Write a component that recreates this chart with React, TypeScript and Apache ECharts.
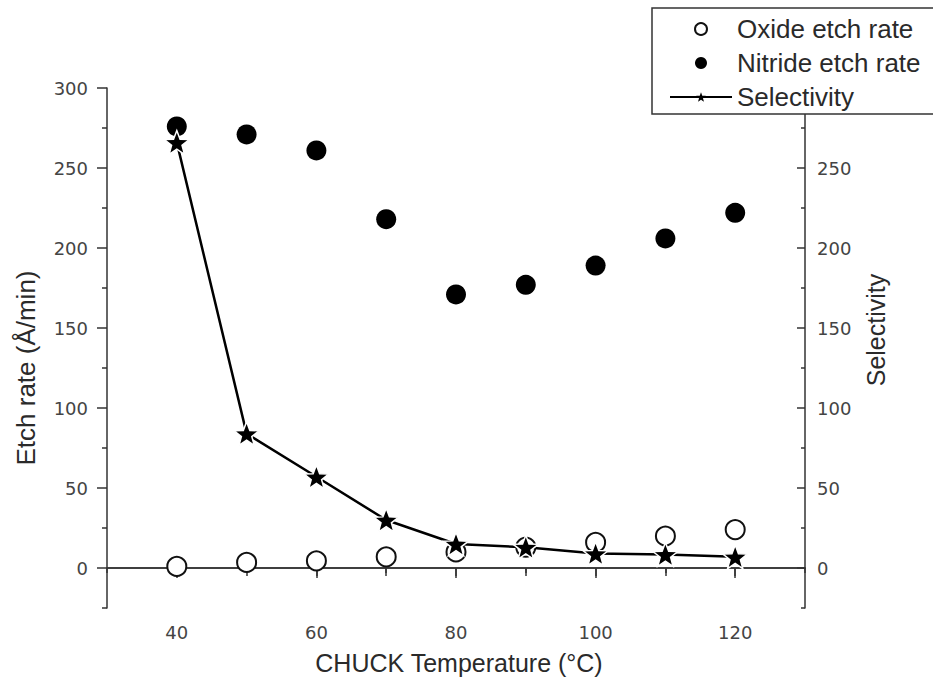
import React, { useEffect, useRef } from "react";
import * as echarts from "echarts";

const temperatures = [40, 50, 60, 70, 80, 90, 100, 110, 120];
const oxideEtch = [1, 3.5, 4.5, 7, 10, 13, 16, 20, 24];
const nitrideEtch = [276, 271, 261, 218, 171, 177, 189, 206, 222];
const selectivity = [266, 84, 57, 30, 15, 13, 9, 8.5, 7];

const xMajorTicks = [40, 60, 80, 100, 120];
const xMinorTicks = [30, 50, 70, 90, 110, 130];
const xTopTicks = [40, 50, 60, 70, 80, 90, 100, 110, 120];
const yMajorTicks = [0, 50, 100, 150, 200, 250, 300];
const yRightLabels = [0, 50, 100, 150, 200, 250];
const yMinorTicks = [-25, 25, 75, 125, 175, 225, 275];

const STAR =
  "path://M50 0 L62.5 33.5 L98 34.5 L70 56.5 L79.4 91 L50 71 L20.6 91 L30 56.5 L2 34.5 L37.5 33.5 Z";

const FONT = "'Liberation Sans', Arial, sans-serif";
const TICK_FONT = "'DejaVu Sans', 'Liberation Sans', sans-serif";
const AXIS_COLOR = "#333";
const TEXT_COLOR = "#2a2a2a";

export default function App() {
  const ref = useRef<HTMLDivElement>(null);

  useEffect(() => {
    if (!ref.current) return;
    const chart = echarts.init(ref.current, undefined, { renderer: "svg" });
    const pair = (vals: number[]) => temperatures.map((t, i) => [t, vals[i]]);
    const axisLine = { show: true, lineStyle: { color: AXIS_COLOR, width: 1.5 } };
    const tickLabel = { fontSize: 18, color: "#444", fontFamily: TICK_FONT };

    chart.setOption({
      animation: false,
      backgroundColor: "#fff",
      textStyle: { fontFamily: FONT },
      grid: { left: 107, right: 128, top: 88, bottom: 85, containLabel: false },
      xAxis: [
        {
          type: "value", position: "bottom", min: 30, max: 130,
          axisLine,
          splitLine: { show: false },
          axisTick: { show: true, customValues: xMajorTicks, length: 10, lineStyle: { color: AXIS_COLOR, width: 1.5 } },
          axisLabel: { customValues: xMajorTicks, margin: 15, ...tickLabel },
        },
        {
          type: "value", position: "bottom", min: 30, max: 130,
          axisLine: { show: false },
          splitLine: { show: false },
          axisTick: { show: true, customValues: xMinorTicks, length: 5, lineStyle: { color: AXIS_COLOR, width: 1.5 } },
          axisLabel: { show: false },
        },
        {
          type: "value", position: "top", min: 30, max: 130,
          axisLine,
          splitLine: { show: false },
          axisTick: { show: true, inside: true, customValues: xTopTicks, length: 8, lineStyle: { color: AXIS_COLOR, width: 1.5 } },
          axisLabel: { show: false },
        },
      ],
      yAxis: [
        {
          type: "value", position: "left", min: -25, max: 300,
          axisLine,
          splitLine: { show: false },
          axisTick: { show: true, customValues: yMajorTicks, length: 10, lineStyle: { color: AXIS_COLOR, width: 1.5 } },
          axisLabel: { customValues: yMajorTicks, margin: 19, ...tickLabel },
        },
        {
          type: "value", position: "left", min: -25, max: 300,
          axisLine: { show: false },
          splitLine: { show: false },
          axisTick: { show: true, customValues: yMinorTicks, length: 5, lineStyle: { color: AXIS_COLOR, width: 1.5 } },
          axisLabel: { show: false },
        },
        {
          type: "value", position: "right", min: -25, max: 300,
          axisLine,
          splitLine: { show: false },
          axisTick: { show: true, inside: true, customValues: yMajorTicks, length: 8, lineStyle: { color: AXIS_COLOR, width: 1.5 } },
          axisLabel: { customValues: yRightLabels, margin: 12, ...tickLabel },
        },
        {
          type: "value", position: "right", min: -25, max: 300,
          axisLine: { show: false },
          splitLine: { show: false },
          axisTick: { show: true, inside: true, customValues: yMinorTicks, length: 4, lineStyle: { color: AXIS_COLOR, width: 1.5 } },
          axisLabel: { show: false },
        },
      ],
      legend: {
        orient: "vertical",
        left: 652,
        top: 8,
        padding: [8, 70, 4, 17],
        itemGap: 8,
        itemWidth: 62,
        itemHeight: 12,
        backgroundColor: "#fff",
        borderColor: "#333",
        borderWidth: 1.5,
        borderRadius: 0,
        textStyle: { fontSize: 26, color: TEXT_COLOR, fontFamily: FONT },
        data: [
          { name: "Oxide etch rate" },
          { name: "Nitride etch rate" },
          { name: "Selectivity", itemStyle: { borderWidth: 0 } },
        ],
      },
      graphic: [
        {
          type: "text", x: 459, y: 663,
          style: { text: "CHUCK Temperature (°C)", font: `25px ${FONT}`, fill: TEXT_COLOR, align: "center", verticalAlign: "middle" },
        },
        {
          type: "text", x: 26, y: 368, rotation: Math.PI / 2,
          style: { text: "Etch rate (Å/min)", font: `26px ${FONT}`, fill: TEXT_COLOR, align: "center", verticalAlign: "middle" },
        },
        {
          type: "text", x: 876, y: 330, rotation: Math.PI / 2,
          style: { text: "Selectivity", font: `25px ${FONT}`, fill: TEXT_COLOR, align: "center", verticalAlign: "middle" },
        },
      ],
      series: [
        {
          name: "Oxide etch rate",
          type: "scatter",
          xAxisIndex: 0, yAxisIndex: 0,
          data: pair(oxideEtch),
          symbol: "emptyCircle",
          symbolSize: 19,
          itemStyle: { color: "#111", borderWidth: 1.2, opacity: 1 },
          z: 2,
        },
        {
          name: "Nitride etch rate",
          type: "scatter",
          xAxisIndex: 0, yAxisIndex: 0,
          data: pair(nitrideEtch),
          symbol: "circle",
          symbolSize: 20,
          itemStyle: { color: "#000", opacity: 1 },
          z: 3,
        },
        {
          name: "Selectivity",
          type: "line",
          xAxisIndex: 0, yAxisIndex: 2,
          data: pair(selectivity),
          symbol: STAR,
          symbolSize: 25,
          symbolKeepAspect: true,
          showAllSymbol: true,
          lineStyle: { color: "#000", width: 2.5 },
          itemStyle: { color: "#000", borderColor: "#fff", borderWidth: 1.5 },
          z: 4,
        },
      ],
    });
    return () => chart.dispose();
  }, []);

  return (
    <div
      ref={ref}
      style={{ position: "fixed", left: 0, top: 0, width: 933, height: 693, background: "#fff" }}
    />
  );
}
